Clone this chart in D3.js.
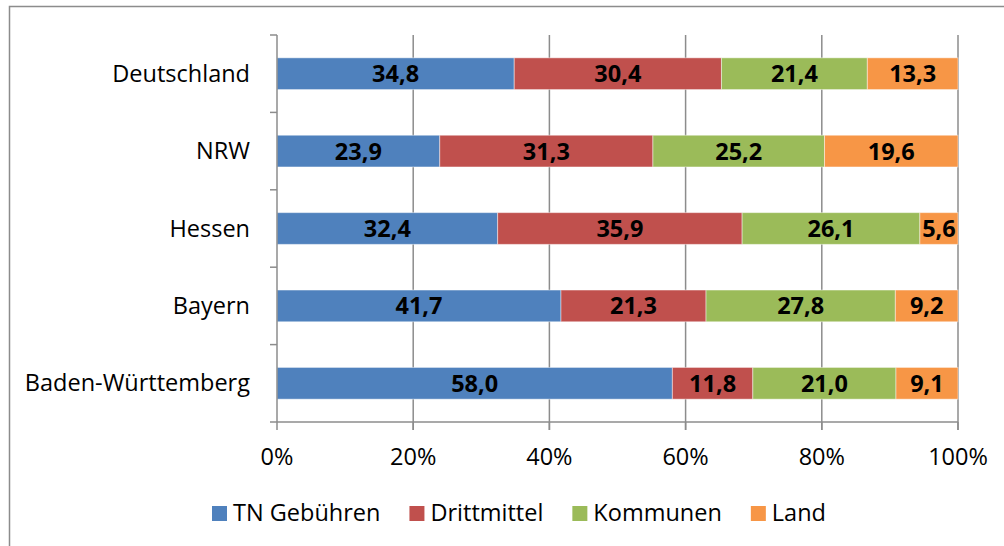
<!DOCTYPE html>
<html>
<head>
<meta charset="utf-8">
<script src="https://cdn.jsdelivr.net/npm/d3@7"></script>
<style>
  body { margin: 0; background: #fff; }
  text { font-family: "Open Sans", "Noto Sans", sans-serif; }
</style>
</head>
<body>
<svg id="chart" width="1004" height="546"></svg>
<script>
const regions = ["Deutschland", "NRW", "Hessen", "Bayern", "Baden-Württemberg"];
const seriesNames = ["TN Gebühren", "Drittmittel", "Kommunen", "Land"];
const tnGebuehren = [34.8, 23.9, 32.4, 41.7, 58.0];
const drittmittel = [30.4, 31.3, 35.9, 21.3, 11.8];
const kommunen = [21.4, 25.2, 26.1, 27.8, 21.0];
const land = [13.3, 19.6, 5.6, 9.2, 9.1];
const xTicks = [0, 0.2, 0.4, 0.6, 0.8, 1];
const colors = ["#4F81BD", "#C0504D", "#9BBB59", "#F79646"];

function drawChart() {
    let svg = d3.select("#chart");
    let padding = { top: 35, right: 46, bottom: 124, left: 277 };
    let width = +svg.attr("width");
    let height = +svg.attr("height");
    let fontSize = "23.5px";

    // outer frame, right and bottom edges run off the picture
    svg.append("rect")
        .attr("x", 9.5)
        .attr("y", 6.5)
        .attr("width", 1100)
        .attr("height", 600)
        .attr("fill", "none")
        .attr("stroke", "#8c8c8c")
        .attr("stroke-width", 1.5);

    let allValues = [tnGebuehren, drittmittel, kommunen, land];
    let rows = regions.map((r, i) => {
        let row = { region: r };
        seriesNames.forEach((s, j) => row[s] = allValues[j][i]);
        return row;
    });

    let stack = d3.stack()
                  .keys(seriesNames)
                  .offset(d3.stackOffsetExpand);
    let layers = stack(rows);

    let xScale = d3.scaleLinear()
                    .domain([0, 1])
                    .range([padding.left, width - padding.right]);
    let yScale = d3.scaleBand()
                    .domain(regions)
                    .range([padding.top, height - padding.bottom])
                    .padding(0);
    let barHeight = yScale.bandwidth() * 0.41;
    let barOffset = (yScale.bandwidth() - barHeight) / 2;
    let plotBottom = height - padding.bottom;

    // vertical gridlines
    svg.append("g")
        .selectAll("line")
        .data(xTicks.slice(1))
        .enter()
        .append("line")
          .attr("x1", d => xScale(d))
          .attr("x2", d => xScale(d))
          .attr("y1", padding.top)
          .attr("y2", plotBottom + 8)
          .attr("stroke", "#8c8c8c")
          .attr("stroke-width", 1.5);

    // bars
    svg.append("g")
        .selectAll("g")
        .data(layers)
        .enter()
        .append("g")
          .attr("fill", (d, i) => colors[i])
        .selectAll("rect")
        .data(d => d)
        .enter()
        .append("rect")
          .attr("x", d => xScale(d[0]))
          .attr("y", d => yScale(d.data.region) + barOffset)
          .attr("width", d => xScale(d[1]) - xScale(d[0]))
          .attr("height", barHeight)
          .attr("stroke", "rgba(255,255,255,0.45)")
          .attr("stroke-width", 1);

    // data labels
    svg.append("g")
        .selectAll("g")
        .data(layers)
        .enter()
        .append("g")
        .selectAll("text")
        .data(d => d.map(p => ({ p: p, key: d.key })))
        .enter()
        .append("text")
          .attr("x", d => (xScale(d.p[0]) + xScale(d.p[1])) / 2)
          .attr("y", d => yScale(d.p.data.region) + yScale.bandwidth() / 2 + 8.5)
          .attr("text-anchor", "middle")
          .attr("font-size", fontSize)
          .attr("font-weight", "bold")
          .attr("fill", "#000")
          .text(d => d.p.data[d.key].toFixed(1).replace(".", ","));

    // y axis
    let yAxis = svg.append("g");
    yAxis.append("line")
        .attr("x1", padding.left)
        .attr("x2", padding.left)
        .attr("y1", padding.top)
        .attr("y2", plotBottom)
        .attr("stroke", "#8c8c8c")
        .attr("stroke-width", 1.5);
    let yTickPos = regions.map(r => yScale(r)).concat([plotBottom]);
    yAxis.selectAll(".ytick")
        .data(yTickPos)
        .enter()
        .append("line")
          .attr("x1", padding.left - 7)
          .attr("x2", padding.left)
          .attr("y1", d => d)
          .attr("y2", d => d)
          .attr("stroke", "#8c8c8c")
          .attr("stroke-width", 1.5);
    yAxis.selectAll(".ylabel")
        .data(regions)
        .enter()
        .append("text")
          .attr("x", padding.left - 27)
          .attr("y", d => yScale(d) + yScale.bandwidth() / 2 + 8)
          .attr("text-anchor", "end")
          .attr("font-size", fontSize)
          .attr("fill", "#000")
          .text(d => d);

    // x axis
    let xAxis = svg.append("g");
    xAxis.append("line")
        .attr("x1", padding.left)
        .attr("x2", width - padding.right)
        .attr("y1", plotBottom)
        .attr("y2", plotBottom)
        .attr("stroke", "#8c8c8c")
        .attr("stroke-width", 1.5);
    xAxis.selectAll(".xtick")
        .data(xTicks)
        .enter()
        .append("line")
          .attr("x1", d => xScale(d))
          .attr("x2", d => xScale(d))
          .attr("y1", plotBottom)
          .attr("y2", plotBottom + 8)
          .attr("stroke", "#8c8c8c")
          .attr("stroke-width", 1.5);
    xAxis.selectAll(".xlabel")
        .data(xTicks)
        .enter()
        .append("text")
          .attr("x", d => xScale(d))
          .attr("y", plotBottom + 43)
          .attr("text-anchor", "middle")
          .attr("font-size", fontSize)
          .attr("fill", "#000")
          .text(d3.format(".0%"));

    // legend
    let legend = svg.append("g");
    let lx = 212;
    seriesNames.forEach((s, i) => {
        legend.append("rect")
            .attr("x", lx)
            .attr("y", 506)
            .attr("width", 15)
            .attr("height", 15)
            .attr("fill", colors[i]);
        let t = legend.append("text")
            .attr("x", lx + 21)
            .attr("y", 521)
            .attr("font-size", fontSize)
            .attr("fill", "#000")
            .text(s);
        lx += 21 + t.node().getComputedTextLength() + 29;
    });
}

drawChart();
</script>
</body>
</html>
